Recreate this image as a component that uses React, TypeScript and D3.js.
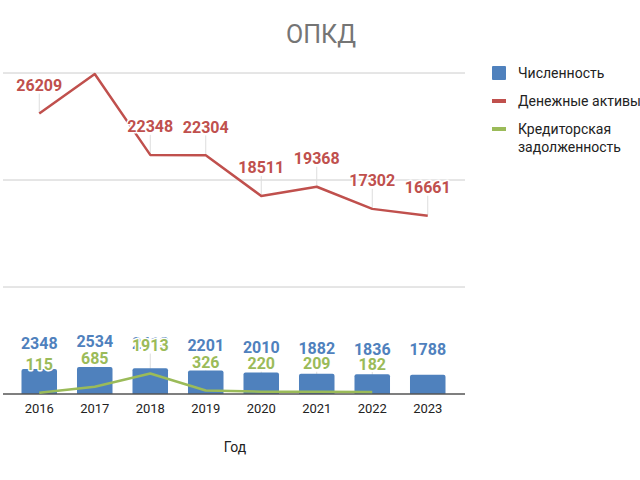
import React from "react";
import * as d3 from "d3";

const years = ["2016", "2017", "2018", "2019", "2020", "2021", "2022", "2023"];
const headcount = [2348, 2534, 2413, 2201, 2010, 1882, 1836, 1788];
const cashAssets = [26209, 29900, 22348, 22304, 18511, 19368, 17302, 16661];
const payables: (number | null)[] = [115, 685, 1913, 326, 220, 209, 182, null];
const yTicks = [0, 10000, 20000, 30000];

const seriesNames = ["Численность", "Денежные активы", "Кредиторская задолженность"];
const colors = ["#4F81BD", "#C0504D", "#9BBB59"];

const W = 640;
const H = 480;
const plotTop = 73;
const plotBottom = 394;
const font = "Roboto, 'Noto Sans', Arial, sans-serif";

export default function App() {
  const x = d3.scaleBand<string>().domain(years).range([11.5, 455.5]).paddingInner(0.36).paddingOuter(0.18);
  const y = d3.scaleLinear().domain([0, 30000]).range([plotBottom, plotTop]);
  const cx = (i: number) => (x(years[i]) as number) + x.bandwidth() / 2;

  const lineGen = d3
    .line<number | null>()
    .defined((d) => d !== null)
    .x((_, i) => cx(i))
    .y((d) => y(d as number));

  const labelStyle = {
    fontFamily: font,
    fontSize: 16,
    fontWeight: 700,
    stroke: "#fff",
    strokeWidth: 3,
    paintOrder: "stroke",
    strokeLinejoin: "round" as const,
  };

  const visible = (v: number | null) => v !== null && y(v) - 22.5 - 12 >= plotTop - 10;

  const stems = (vals: (number | null)[], key: string) =>
    vals.map((v, i) => {
      if (!visible(v)) return null;
      const py = y(v as number);
      return <line key={key + i} x1={cx(i)} x2={cx(i)} y1={py - 1} y2={py - 20} stroke="#ddd" strokeWidth={1} />;
    });

  const lineLabelTexts = (vals: (number | null)[], color: string, key: string) =>
    vals.map((v, i) => {
      if (!visible(v)) return null;
      return (
        <text key={key + "t" + i} x={cx(i)} y={y(v as number) - 22.5} textAnchor="middle" fill={color} style={labelStyle}>
          {v}
        </text>
      );
    });

  const barPath = (x0: number, y0: number, w: number, h: number, r: number) =>
    `M${x0},${y0 + h}V${y0 + r}Q${x0},${y0} ${x0 + r},${y0}H${x0 + w - r}Q${x0 + w},${y0} ${x0 + w},${y0 + r}V${y0 + h}Z`;

  return (
    <svg width={W} height={H} style={{ position: "absolute", left: 0, top: 0 }}>
      <rect width={W} height={H} fill="#fff" />
      <text x={321} y={43} textAnchor="middle" fontFamily={font} fontSize={25} fill="#757575">
        ОПКД
      </text>

      {yTicks.slice(1).map((t) => (
        <line key={t} x1={3} x2={465} y1={y(t)} y2={y(t)} stroke="#cccccc" strokeWidth={1} />
      ))}

      {stems(cashAssets, "r")}
      {stems(payables, "g")}

      {headcount.map((v, i) => {
        const bx = x(years[i]) as number;
        return <path key={"b" + i} d={barPath(bx, y(v), x.bandwidth(), plotBottom - y(v), 2)} fill={colors[0]} />;
      })}

      <line x1={3} x2={465} y1={plotBottom} y2={plotBottom} stroke="#555" strokeWidth={1.5} />

      <path d={lineGen(cashAssets) || ""} fill="none" stroke={colors[1]} strokeWidth={2.5} strokeLinejoin="round" />
      <path d={lineGen(payables) || ""} fill="none" stroke={colors[2]} strokeWidth={2.5} strokeLinejoin="round" />

      {headcount.map((v, i) => (
        <text key={"bl" + i} x={cx(i)} y={y(v) - 19.5} textAnchor="middle" fill={colors[0]} style={labelStyle}>
          {v}
        </text>
      ))}
      {lineLabelTexts(cashAssets, colors[1], "r")}
      {lineLabelTexts(payables, colors[2], "g")}

      {years.map((yr, i) => (
        <text key={"x" + i} x={cx(i)} y={413} textAnchor="middle" fontFamily={font} fontSize={13} fill="#222">
          {yr}
        </text>
      ))}
      <text x={235} y={452} textAnchor="middle" fontFamily={font} fontSize={14} fill="#222">
        Год
      </text>

      <g fontFamily={font} fontSize={14} fill="#222">
        <rect x={492} y={66} width={14} height={14} rx={1} fill={colors[0]} />
        <text x={518} y={78}>{seriesNames[0]}</text>
        <rect x={492} y={99} width={14} height={4} fill={colors[1]} />
        <text x={518} y={106}>{seriesNames[1]}</text>
        <rect x={492} y={127} width={14} height={4} fill={colors[2]} />
        <text x={518} y={134}>Кредиторская</text>
        <text x={518} y={152}>задолженность</text>
      </g>
    </svg>
  );
}
